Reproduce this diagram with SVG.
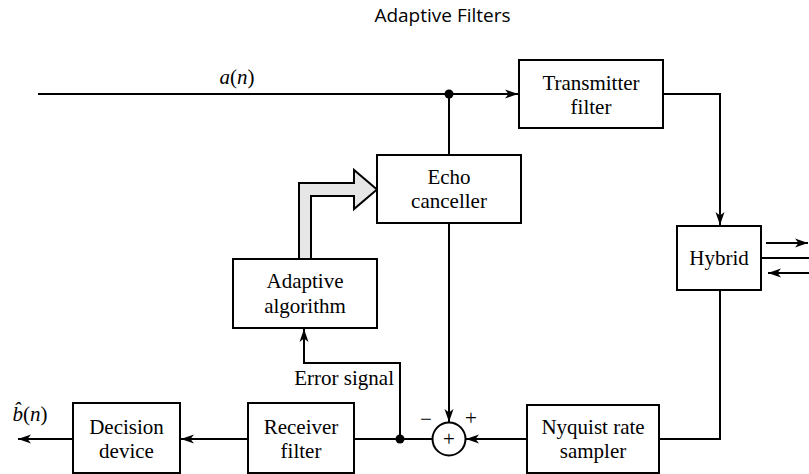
<svg xmlns="http://www.w3.org/2000/svg" width="809" height="474" viewBox="0 0 809 474">
<style>
.box{fill:#fff;stroke:#000;stroke-width:2}
.ln{fill:none;stroke:#000;stroke-width:2}
.t{font-family:'Liberation Serif','Times New Roman',Times,'DejaVu Serif','Noto Serif',serif;font-size:21px;fill:#000;text-anchor:middle}
.title{font-family:'Open Sans','Liberation Sans',sans-serif;font-size:19px;fill:#000;text-anchor:middle}
.i{font-style:italic}
.n{font-style:normal}
</style>
<defs>
<marker id="ah" markerUnits="userSpaceOnUse" markerWidth="14" markerHeight="10" refX="13" refY="5" orient="auto">
<path d="M0,0.5 L13,5 L0,9.5 L3.5,5 z" fill="#000"/>
</marker>
</defs>
<rect width="809" height="474" fill="#fff"/>
<text class="title" x="442.5" y="22">Adaptive Filters</text>

<g id="connectors">
<path class="ln" d="M38,94 H518" marker-end="url(#ah)"/>
<path class="ln" d="M449,94 V155"/>
<path class="ln" d="M663,94 H720 V225" marker-end="url(#ah)"/>
<path class="ln" d="M766,243 H808" marker-end="url(#ah)"/>
<path class="ln" d="M761,258 H809"/>
<path class="ln" d="M809,273 H768" marker-end="url(#ah)"/>
<path class="ln" d="M720,290 V439 H659"/>
<path class="ln" d="M527,439 H466" marker-end="url(#ah)"/>
<path class="ln" d="M449,223 V422" marker-end="url(#ah)"/>
<path class="ln" d="M432,439 H354"/>
<path class="ln" d="M400,439 V363 H304 V329" marker-end="url(#ah)"/>
<path class="ln" d="M248,439 H181" marker-end="url(#ah)"/>
<path class="ln" d="M73,439 H18" marker-end="url(#ah)"/>
<circle cx="449" cy="94" r="4.5" fill="#000"/>
<circle cx="400" cy="439" r="4.5" fill="#000"/>
<polygon points="299,259 299,183 354,183 354,170 377,189.5 354,209 354,196 311,196 311,259" fill="#e6e6e6" stroke="#000" stroke-width="2" stroke-linejoin="miter"/>
<text class="t i" x="237" y="84">a<tspan class="n">(</tspan>n<tspan class="n">)</tspan></text>
<text class="t" x="394" y="385" style="text-anchor:end">Error signal</text>
<text class="t i" x="30" y="421">b̂<tspan class="n">(</tspan>n<tspan class="n">)</tspan></text>
</g>

<g id="transmitter">
<rect class="box" x="519" y="60" width="144" height="68"/>
<text class="t" x="591" y="90">Transmitter</text>
<text class="t" x="591" y="114">filter</text>
</g>
<g id="hybrid">
<rect class="box" x="677" y="226" width="84" height="64"/>
<text class="t" x="719" y="265">Hybrid</text>
</g>
<g id="echo">
<rect class="box" x="377" y="155" width="144" height="68"/>
<text class="t" x="449" y="184">Echo</text>
<text class="t" x="449" y="208">canceller</text>
</g>
<g id="adaptive">
<rect class="box" x="233" y="259" width="144" height="69"/>
<text class="t" x="305" y="288">Adaptive</text>
<text class="t" x="305" y="313">algorithm</text>
</g>
<g id="sum">
<circle cx="449" cy="439" r="16.5" fill="#fff" stroke="#000" stroke-width="2"/>
<text class="t" x="449" y="446">+</text>
<text class="t" x="426" y="426" fill="#444">−</text>
<text class="t" x="471" y="425" fill="#444">+</text>
</g>
<g id="nyquist">
<rect class="box" x="527" y="405" width="132" height="68"/>
<text class="t" x="593" y="434">Nyquist rate</text>
<text class="t" x="593" y="458">sampler</text>
</g>
<g id="receiver">
<rect class="box" x="248" y="403" width="106" height="70"/>
<text class="t" x="301" y="434">Receiver</text>
<text class="t" x="301" y="458">filter</text>
</g>
<g id="decision">
<rect class="box" x="73" y="403" width="107" height="70"/>
<text class="t" x="126.5" y="434">Decision</text>
<text class="t" x="126.5" y="458">device</text>
</g>
</svg>
